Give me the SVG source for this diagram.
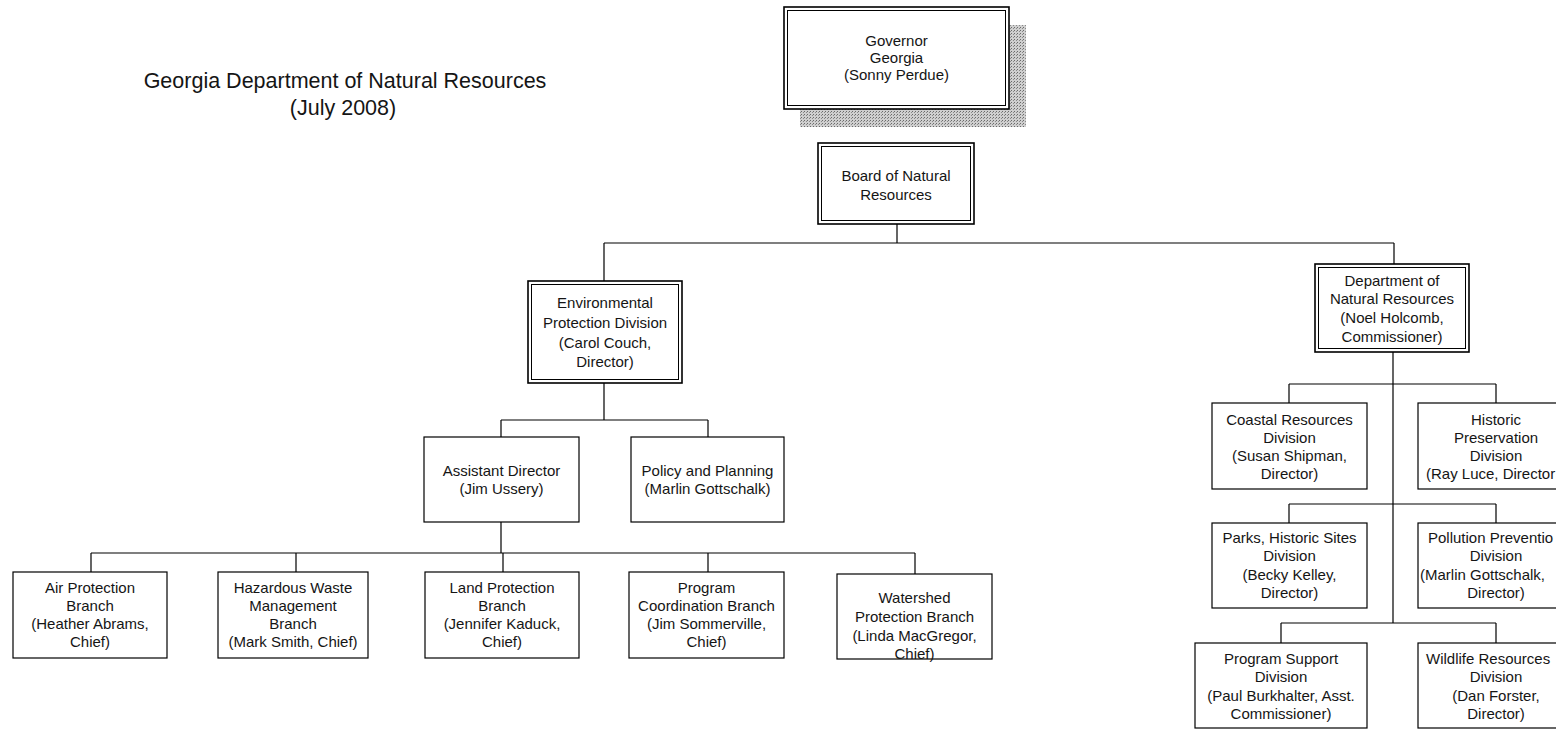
<svg xmlns="http://www.w3.org/2000/svg" width="1556" height="729" viewBox="0 0 1556 729">
<defs>
<pattern id="halftone" width="3" height="3" patternUnits="userSpaceOnUse">
<rect width="3" height="3" fill="#cfcfcf"/>
<rect width="1" height="1" fill="#6a6a6a"/>
<rect x="2" y="1" width="1" height="1" fill="#8a8a8a"/>
</pattern>
</defs>
<style>
.box{fill:#fff;stroke:#000;stroke-width:1.2}
.outer{fill:#fff;stroke:#000;stroke-width:1.6}
.inner{fill:none;stroke:#000;stroke-width:1}
.conn{fill:none;stroke:#000;stroke-width:1.2}
text{font-family:"Liberation Sans",Arial,Helvetica,sans-serif;font-size:15px;fill:#151515}
.c{text-anchor:middle}
.s{text-anchor:start}
.title{font-size:21.5px;text-anchor:middle}
</style>
<rect width="1556" height="729" fill="#fff"/>

<g id="title">
<text class="title" x="345" y="88">Georgia Department of Natural Resources</text>
<text class="title" x="343" y="115">(July 2008)</text>
</g>

<g id="connectors">
<path class="conn" d="M897 224V243M604 243H1394M604 243V281M1394 243V264"/>
<path class="conn" d="M604 383V420M501 420H708M501 420V437M708 420V437"/>
<path class="conn" d="M501 522V553M91 553H915M91 553V572M296 553V572M503 553V572M708 553V572M915 553V574"/>
<path class="conn" d="M1393 352V623M1289 384H1496M1289 384V403M1496 384V403M1289 504H1496M1289 504V523M1496 504V523M1281 623H1496M1281 623V643M1496 623V643"/>
</g>

<g id="governor">
<rect x="800" y="25" width="226" height="102" fill="url(#halftone)"/>
<rect class="outer" x="784" y="7" width="225" height="102"/>
<rect class="inner" x="787.5" y="10.5" width="218" height="95"/>
<text class="c" x="896.5" y="46">Governor</text>
<text class="c" x="896.5" y="63">Georgia</text>
<text class="c" x="896.5" y="80">(Sonny Perdue)</text>
</g>

<g id="board">
<rect class="outer" x="818" y="143" width="156" height="81"/>
<rect class="inner" x="821.5" y="146.5" width="149" height="74"/>
<text class="c" x="896" y="181">Board of Natural</text>
<text class="c" x="896" y="200">Resources</text>
</g>

<g id="epd">
<rect class="outer" x="528" y="281" width="154" height="102"/>
<rect class="inner" x="531.5" y="284.5" width="147" height="95"/>
<text class="c" x="605" y="308">Environmental</text>
<text class="c" x="605" y="328">Protection Division</text>
<text class="c" x="605" y="348">(Carol Couch,</text>
<text class="c" x="605" y="367">Director)</text>
</g>

<g id="assistant-director">
<rect class="box" x="424" y="437" width="155" height="85"/>
<text class="c" x="501.5" y="476">Assistant Director</text>
<text class="c" x="501.5" y="494">(Jim Ussery)</text>
</g>

<g id="policy-planning">
<rect class="box" x="631" y="437" width="153" height="85"/>
<text class="c" x="707.5" y="476">Policy and Planning</text>
<text class="c" x="707.5" y="494">(Marlin Gottschalk)</text>
</g>

<g id="air-protection">
<rect class="box" x="13" y="572" width="154" height="86"/>
<text class="c" x="90" y="593">Air Protection</text>
<text class="c" x="90" y="611">Branch</text>
<text class="c" x="90" y="629">(Heather Abrams,</text>
<text class="c" x="90" y="647">Chief)</text>
</g>

<g id="hazardous-waste">
<rect class="box" x="218" y="572" width="150" height="86"/>
<text class="c" x="293" y="593">Hazardous Waste</text>
<text class="c" x="293" y="611">Management</text>
<text class="c" x="293" y="629">Branch</text>
<text class="c" x="293" y="647">(Mark Smith, Chief)</text>
</g>

<g id="land-protection">
<rect class="box" x="425" y="572" width="154" height="86"/>
<text class="c" x="502" y="593">Land Protection</text>
<text class="c" x="502" y="611">Branch</text>
<text class="c" x="502" y="629">(Jennifer Kaduck,</text>
<text class="c" x="502" y="647">Chief)</text>
</g>

<g id="program-coordination">
<rect class="box" x="629" y="572" width="155" height="86"/>
<text class="c" x="706.5" y="593">Program</text>
<text class="c" x="706.5" y="611">Coordination Branch</text>
<text class="c" x="706.5" y="629">(Jim Sommerville,</text>
<text class="c" x="706.5" y="647">Chief)</text>
</g>

<g id="watershed">
<rect class="box" x="837" y="574" width="155" height="85"/>
<text class="c" x="914.5" y="603">Watershed</text>
<text class="c" x="914.5" y="622">Protection Branch</text>
<text class="c" x="914.5" y="641">(Linda MacGregor,</text>
<text class="c" x="914.5" y="659">Chief)</text>
</g>

<g id="dnr">
<rect class="outer" x="1315" y="264" width="154" height="88"/>
<rect class="inner" x="1318.5" y="267.5" width="147" height="81"/>
<text class="c" x="1392" y="286">Department of</text>
<text class="c" x="1392" y="304">Natural Resources</text>
<text class="c" x="1392" y="323">(Noel Holcomb,</text>
<text class="c" x="1392" y="342">Commissioner)</text>
</g>

<g id="coastal">
<rect class="box" x="1212" y="403" width="155" height="86"/>
<text class="c" x="1289.5" y="425">Coastal Resources</text>
<text class="c" x="1289.5" y="443">Division</text>
<text class="c" x="1289.5" y="461">(Susan Shipman,</text>
<text class="c" x="1289.5" y="479">Director)</text>
</g>

<g id="historic-preservation">
<rect class="box" x="1418" y="403" width="160" height="86"/>
<text class="c" x="1496" y="425">Historic</text>
<text class="c" x="1496" y="443">Preservation</text>
<text class="c" x="1496" y="461">Division</text>
<text class="s" x="1426" y="479">(Ray Luce, Director</text>
</g>

<g id="parks">
<rect class="box" x="1212" y="523" width="155" height="85"/>
<text class="c" x="1289.5" y="543">Parks, Historic Sites</text>
<text class="c" x="1289.5" y="561">Division</text>
<text class="c" x="1289.5" y="580">(Becky Kelley,</text>
<text class="c" x="1289.5" y="598">Director)</text>
</g>

<g id="pollution-prevention">
<rect class="box" x="1418" y="523" width="160" height="85"/>
<text class="s" x="1428" y="543">Pollution Preventio</text>
<text class="c" x="1496" y="561">Division</text>
<text class="s" x="1420" y="580">(Marlin Gottschalk,</text>
<text class="c" x="1496" y="598">Director)</text>
</g>

<g id="program-support">
<rect class="box" x="1195" y="643" width="172" height="85"/>
<text class="c" x="1281" y="664">Program Support</text>
<text class="c" x="1281" y="682">Division</text>
<text class="c" x="1281" y="701">(Paul Burkhalter, Asst.</text>
<text class="c" x="1281" y="719">Commissioner)</text>
</g>

<g id="wildlife">
<rect class="box" x="1418" y="643" width="160" height="85"/>
<text class="s" x="1426" y="664">Wildlife Resources</text>
<text class="c" x="1496" y="682">Division</text>
<text class="c" x="1496" y="701">(Dan Forster,</text>
<text class="c" x="1496" y="719">Director)</text>
</g>
</svg>
